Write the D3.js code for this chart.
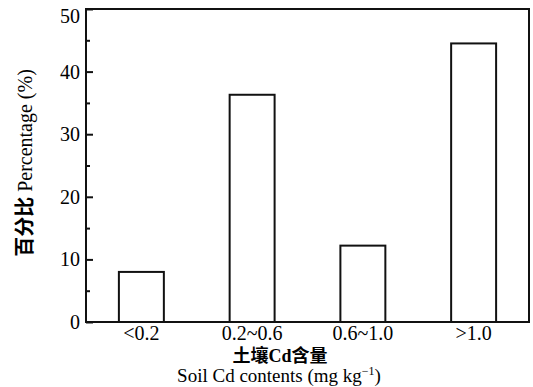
<!DOCTYPE html>
<html>
<head>
<meta charset="utf-8">
<script src="https://cdn.jsdelivr.net/npm/d3@7"></script>
<style>
  body { margin: 0; background: #fff; }
</style>
</head>
<body>
<div id="chart"></div>
<script>
// soil Cd content classes and share of samples
var categories = ["<0.2", "0.2~0.6", "0.6~1.0", ">1.0"];
var percentages = [8.0, 36.3, 12.2, 44.5];
var y_ticks = [0, 10, 20, 30, 40, 50];
var y_minor = [5, 15, 25, 35, 45];

var serif = "'Liberation Serif', 'Times New Roman', 'DejaVu Serif', 'Noto Sans CJK SC', serif";

var width = 533, height = 387;
var margin = {top: 9, right: 4, bottom: 65, left: 86};

var svg = d3.select("#chart").append("svg")
	.attr("width", width)
	.attr("height", height)
	.attr("font-family", serif);

var x = d3.scaleBand()
	.domain(categories)
	.range([margin.left, width - margin.right])
	.paddingInner(0.594)
	.paddingOuter(0.297);

var y = d3.scaleLinear()
	.domain([0, 50])
	.range([height - margin.bottom, margin.top]);

// bars
svg.append("g").selectAll("rect")
	.data(percentages)
	.enter().append("rect")
	.attr("x", function(d, i) { return x(categories[i]); })
	.attr("y", function(d) { return y(d); })
	.attr("width", x.bandwidth())
	.attr("height", function(d) { return y(0) - y(d); })
	.attr("fill", "none")
	.attr("stroke", "#111")
	.attr("stroke-width", 2);

// frame
svg.append("rect")
	.attr("x", margin.left)
	.attr("y", margin.top)
	.attr("width", width - margin.right - margin.left)
	.attr("height", y(0) - margin.top)
	.attr("fill", "none")
	.attr("stroke", "#111")
	.attr("stroke-width", 2);

// y axis, ticks pointing inward
var yAxis = svg.append("g")
	.attr("transform", "translate(" + margin.left + ",0)")
	.call(d3.axisRight(y).tickValues(y_ticks).tickSize(7).tickFormat(""));
yAxis.select(".domain").remove();
yAxis.selectAll("line").attr("stroke", "#111").attr("stroke-width", 2);

var yMinor = svg.append("g")
	.attr("transform", "translate(" + margin.left + ",0)")
	.call(d3.axisRight(y).tickValues(y_minor).tickSize(4).tickFormat(""));
yMinor.select(".domain").remove();
yMinor.selectAll("line").attr("stroke", "#111").attr("stroke-width", 2);

// tick labels; the top one sits a little lower so it stays inside the page
svg.append("g").selectAll("text")
	.data(y_ticks)
	.enter().append("text")
	.attr("x", margin.left - 6)
	.attr("y", function(d) { return Math.max(y(d), 16); })
	.attr("dy", "0.35em")
	.attr("text-anchor", "end")
	.attr("font-size", 20)
	.text(function(d) { return d; });

// x labels
svg.append("g").selectAll("text")
	.data(categories)
	.enter().append("text")
	.attr("x", function(d) { return x(d) + x.bandwidth() / 2; })
	.attr("y", 340)
	.attr("text-anchor", "middle")
	.attr("font-size", 20)
	.text(function(d) { return d; });

// x title, two lines
svg.append("text")
	.attr("x", 280)
	.attr("y", 362)
	.attr("text-anchor", "middle")
	.attr("font-size", 18)
	.attr("font-weight", "bold")
	.text("土壤Cd含量");

var xt = svg.append("text")
	.attr("x", 279)
	.attr("y", 382)
	.attr("text-anchor", "middle")
	.attr("font-size", 19);
xt.append("tspan").text("Soil Cd contents (mg kg");
xt.append("tspan").attr("dy", -7).attr("font-size", 12).text("−1");
xt.append("tspan").attr("dy", 7).text(")");

// y title
var yt = svg.append("text")
	.attr("transform", "translate(32,163) rotate(-90)")
	.attr("text-anchor", "middle")
	.attr("font-size", 20);
yt.append("tspan").attr("font-weight", "bold").text("百分比");
yt.append("tspan").text(" Percentage (%)");
</script>
</body>
</html>
